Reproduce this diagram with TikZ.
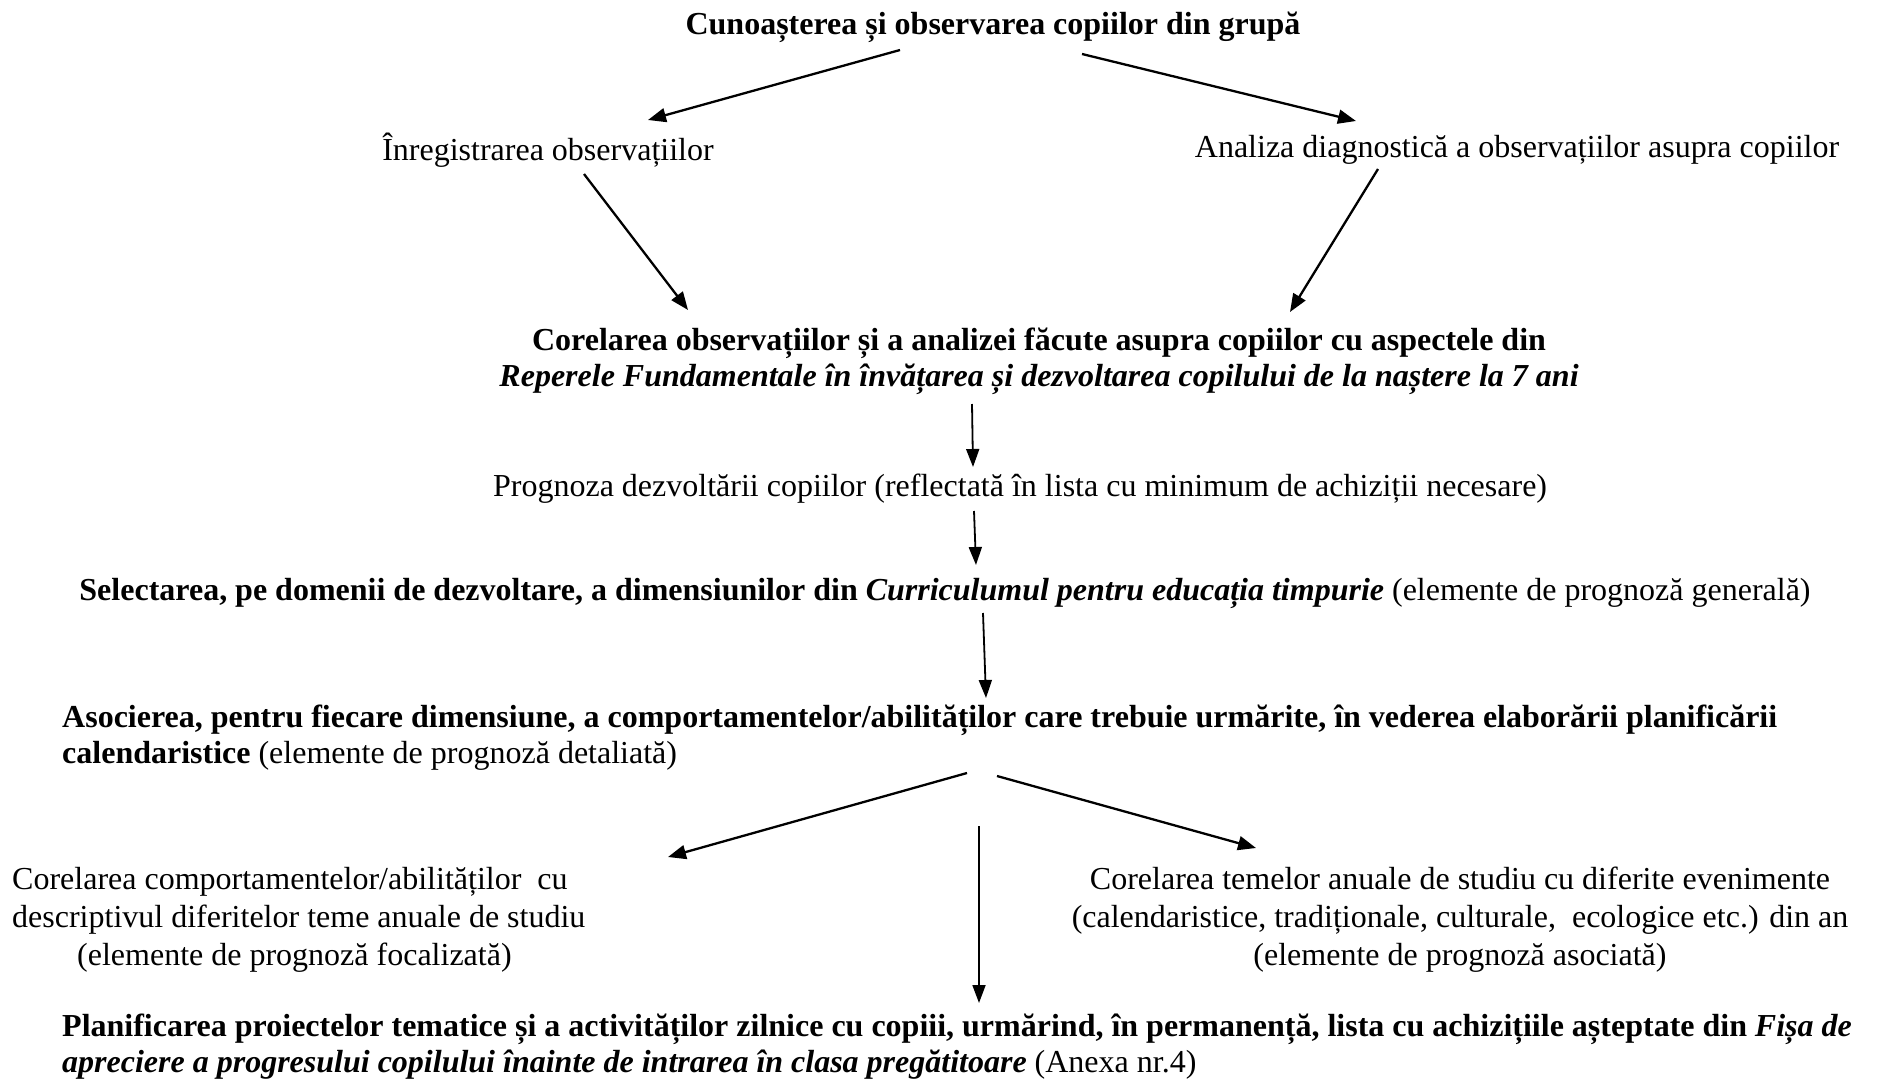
\documentclass[tikz,border=0pt]{standalone}
\usepackage{fontspec}
\setmainfont{Liberation Serif}
\usetikzlibrary{arrows.meta}
\begin{document}
\begin{tikzpicture}[x=1pt,y=1pt,
  txt/.style={inner sep=0pt,font=\fontsize{32}{36}\selectfont},
  wtxt/.style={inner sep=0pt,font=\fontsize{32}{38}\selectfont},
  arr/.style={line width=2.3pt,-{Triangle[length=18pt,width=14pt]}},
  varr/.style={line width=1.8pt,-{Triangle[length=18pt,width=13pt]}}]
\useasboundingbox (0,0) rectangle (1881,-1081);
\node[txt] (title) at (993,-27) {\textbf{Cunoașterea și observarea copiilor din grupă}};
\node[txt] (inreg) at (548,-150) {Înregistrarea observațiilor};
\node[txt] (analiza) at (1517,-150) {Analiza diagnostică a observațiilor asupra copiilor};
\node[txt,align=center] (corel) at (1039,-361) {\textbf{Corelarea observațiilor și a analizei făcute asupra copiilor cu aspectele din}\\\textbf{\textit{Reperele Fundamentale în învățarea și dezvoltarea copilului de la naștere la 7 ani}}};
\node[txt] (prog) at (1020,-489) {Prognoza dezvoltării copiilor (reflectată în lista cu minimum de achiziții necesare)};
\node[txt] (sel) at (945,-593) {\textbf{Selectarea, pe domenii de dezvoltare, a dimensiunilor din \textit{Curriculumul pentru educația timpurie}} (elemente de prognoză generală)};
\node[txt,align=left,anchor=west] (asoc) at (62,-738) {\textbf{Asocierea, pentru fiecare dimensiune, a comportamentelor/abilităților care trebuie urmărite, în vederea elaborării planificării}\\\textbf{calendaristice} (elemente de prognoză detaliată)};
\node[wtxt,align=left,anchor=west] (left) at (12,-920) {Corelarea comportamentelor/abilităților\ \ cu\\descriptivul diferitelor teme anuale de studiu\\\hspace*{65pt}(elemente de prognoză focalizată)};
\node[wtxt,align=center] (right) at (1460,-920) {Corelarea temelor anuale de studiu cu diferite evenimente\\(calendaristice, tradiționale, culturale,\ \ ecologice etc.) din an\\(elemente de prognoză asociată)};
\node[txt,align=left,anchor=west] (plan) at (62,-1047) {\textbf{Planificarea proiectelor tematice și a activităților zilnice cu copiii, urmărind, în permanență, lista cu achizițiile așteptate din \textit{Fișa de}}\\\textbf{\textit{apreciere a progresului copilului înainte de intrarea în clasa pregătitoare}} (Anexa nr.4)};
\draw[arr] ([shift={(-93,-23)}]title.center) -- ([shift={(100,30)}]inreg.center);
\draw[arr] ([shift={(89,-27)}]title.center) -- ([shift={(-161,29)}]analiza.center);
\draw[arr] ([shift={(36,-24)}]inreg.center) -- ([shift={(-351,51)}]corel.center);
\draw[arr] ([shift={(-139,-19)}]analiza.center) -- ([shift={(251,49)}]corel.center);
\draw[varr] ([shift={(-67,-43)}]corel.center) -- ([shift={(-47,22)}]prog.center);
\draw[varr] ([shift={(-46,-22)}]prog.center) -- ([shift={(31,28)}]sel.center);
\draw[varr] ([shift={(38,-20)}]sel.center) -- ([shift={(924,40)}]asoc.west);
\draw[arr] ([shift={(905,-35)}]asoc.west) -- ([shift={(656,63)}]left.west);
\draw[arr] ([shift={(935,-38)}]asoc.west) -- ([shift={(-204,72)}]right.center);
\draw[varr] ([shift={(917,-88)}]asoc.west) -- ([shift={(917,44)}]plan.west);
\end{tikzpicture}
\end{document}
